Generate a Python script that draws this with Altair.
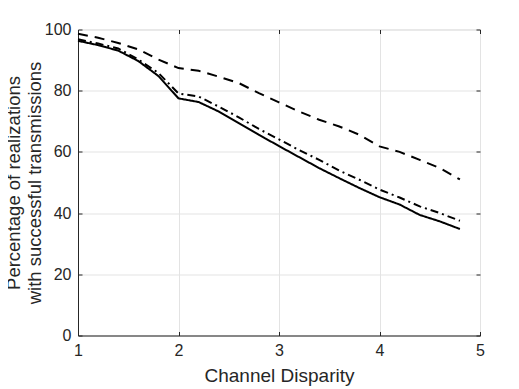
import altair as alt
import pandas as pd

x_vals = [1.0, 1.2, 1.4, 1.6, 1.8, 2.0, 2.2, 2.4, 2.6, 2.8,
          3.0, 3.2, 3.4, 3.6, 3.8, 4.0, 4.2, 4.4, 4.6, 4.8]
solid = [96.3, 94.9, 93.1, 89.7, 84.8, 77.5, 76.3, 73.2, 69.4, 65.6,
         61.9, 58.3, 54.7, 51.4, 48.2, 45.2, 42.8, 39.4, 37.3, 34.8]
dashdot = [96.8, 95.4, 93.8, 90.2, 85.8, 79.1, 78.1, 74.8, 71.3, 67.5,
           64.1, 60.6, 57.4, 53.9, 50.9, 47.7, 45.1, 42.2, 40.0, 37.5]
dashed = [98.6, 97.3, 95.6, 93.5, 90.2, 87.4, 86.5, 84.6, 82.5, 79.2,
          76.2, 73.2, 70.5, 68.3, 65.6, 61.8, 60.0, 57.4, 54.7, 51.0]
series_names = ["solid", "dashdot", "dashed"]
x_ticks = [1, 2, 3, 4, 5]
y_ticks = [0, 20, 40, 60, 80, 100]

rows = []
for name, vals in zip(series_names, [solid, dashdot, dashed]):
    for xv, yv in zip(x_vals, vals):
        rows.append({"x": xv, "y": yv, "series": name})
df = pd.DataFrame(rows)

W, H = 402, 306
AX = "#262626"
FONT = "Liberation Sans"
xs = alt.Scale(domain=[1, 5], nice=False, zero=False)
ys = alt.Scale(domain=[0, 100], nice=False)

lines = alt.Chart(df).mark_line(color="black", strokeWidth=2).encode(
    x=alt.X("x:Q", scale=xs, axis=alt.Axis(
        values=x_ticks, format="d", title="Channel Disparity", grid=True,
        gridColor="#e3e3e3", ticks=False, tickSize=0, labelPadding=7,
        labelFontSize=16, titleFontSize=19, titlePadding=8,
        labelFont=FONT, titleFont=FONT, labelColor=AX, titleColor=AX,
        titleFontWeight="normal", domainColor=AX, labelFlush=False)),
    y=alt.Y("y:Q", scale=ys, axis=alt.Axis(
        values=y_ticks, title=["Percentage of realizations", "with successful transmissions"],
        grid=True, gridColor="#e3e3e3", ticks=False, tickSize=0, labelPadding=7,
        labelFontSize=16, titleFontSize=18.5, titlePadding=0, titleLineHeight=21,
        labelFont=FONT, titleFont=FONT, labelColor=AX, titleColor=AX,
        titleFontWeight="normal", domainColor=AX, labelFlush=False)),
    strokeDash=alt.StrokeDash("series:N", scale=alt.Scale(
        domain=series_names, range=[[1, 0], [8, 4, 2, 4], [10, 7]]), legend=None),
)

tick_common = dict(domain=False, labels=False, grid=False, ticks=True,
                   tickSize=4, tickColor=AX, title=None)

inner1 = alt.Chart(df).mark_point(opacity=0).encode(
    x=alt.X("x:Q", scale=xs, axis=alt.Axis(values=x_ticks, orient="top", offset=-H, **tick_common)),
    y=alt.Y("y:Q", scale=ys, axis=alt.Axis(values=y_ticks, orient="right", offset=-W, **tick_common)),
)
inner2 = alt.Chart(df).mark_point(opacity=0).encode(
    x=alt.X("x:Q", scale=xs, axis=alt.Axis(values=x_ticks, orient="bottom", offset=-H, **tick_common)),
    y=alt.Y("y:Q", scale=ys, axis=alt.Axis(values=y_ticks, orient="left", offset=-W, **tick_common)),
)

chart = alt.layer(lines, inner1, inner2).resolve_axis(
    x="independent", y="independent"
).properties(
    width=W, height=H, autosize="none",
    padding={"left": 70, "top": 21.5, "right": 14, "bottom": 53},
).configure_view(stroke=AX, strokeWidth=1).configure(background="white")

chart.save("out.html", embed_options={"renderer": "svg", "actions": False})
